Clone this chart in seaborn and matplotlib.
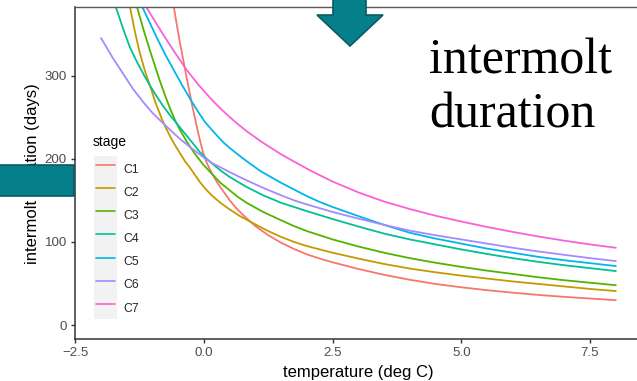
import matplotlib
matplotlib.use("Agg")
import matplotlib.pyplot as plt
import pandas as pd
import seaborn as sns
from matplotlib.patches import Polygon, Rectangle

# ---------------- data ----------------
stages = ["C1", "C2", "C3", "C4", "C5", "C6", "C7"]
palette = ["#F8766D", "#C49A00", "#53B400", "#00C094", "#00B6EB", "#A58AFF", "#FB61D7"]

c1_temp = [-0.63, -0.58, -0.52, -0.47, -0.40, -0.34, -0.28, -0.24, -0.18, -0.12, -0.07, -0.02, 0.04, 0.10, 0.15,
           0.25, 0.35, 0.5, 0.62, 0.75, 0.87, 1.0, 1.25, 1.5, 1.75, 2.0, 2.25, 2.5, 3.0, 3.5, 4.0, 4.5, 5.0,
           5.5, 6.0, 6.5, 7.0, 7.5, 8.0]
c1_days = [400, 380, 358, 340, 318, 298, 280, 267, 250, 233, 220, 208, 197, 189, 183,
           172, 163, 150, 141, 133, 126, 119, 108, 99, 91.5, 85, 80, 75.5, 67.5, 60.5, 54.5, 49.5, 45.5,
           42, 39, 36.3, 34, 32, 30]

c2_temp = [-1.5, -1.43, -1.34, -1.25, -1.15, -1.05, -0.94, -0.82, -0.74, -0.65, -0.56, -0.47, -0.37, -0.27,
           -0.17, -0.08, 0.04, 0.15, 0.32, 0.5, 0.7, 1.0, 1.25, 1.5, 1.75, 2.0, 2.5, 3.0, 3.5, 4.0, 4.5,
           5.0, 5.5, 6.0, 6.5, 7.0, 7.5, 8.0]
c2_days = [400, 380, 352, 328, 306, 288, 267, 248, 237, 226, 216, 207, 197, 189,
           180, 172, 163, 156, 147, 139, 131, 121, 113, 106, 100, 95, 87, 80, 73.5, 68, 63.5,
           59.5, 56, 52.5, 49.5, 46.5, 43.5, 41]

c3_temp = [-1.39, -1.29, -1.17, -1.05, -0.95, -0.86, -0.75, -0.65, -0.56, -0.47, -0.34, -0.2, -0.03, 0.15,
           0.32, 0.5, 0.66, 0.83, 1.15, 1.5, 1.75, 2.0, 2.5, 3.0, 3.5, 4.0, 4.5, 5.0, 5.5, 6.0, 6.5, 7.0,
           7.5, 8.0]
c3_days = [400, 380, 354, 330, 311, 294, 275, 259, 246, 235, 221, 208, 194, 182,
           171, 162, 154, 147, 136, 126, 119, 113, 103, 94.5, 87, 80.5, 75, 70, 65.5, 61.5, 57.5, 54,
           51, 48]

c4_temp = [-1.81, -1.70, -1.57, -1.44, -1.30, -1.17, -1.05, -0.92, -0.8, -0.67, -0.55, -0.42, -0.3, -0.19,
           -0.08, 0.05, 0.18, 0.34, 0.5, 0.83, 1.15, 1.5, 2.0, 2.5, 3.0, 3.5, 4.0, 4.5, 5.0, 5.5, 6.0,
           6.5, 7.0, 7.5, 8.0]
c4_days = [402, 380, 356, 334, 316, 301, 288, 275, 264, 253, 244, 234, 225, 216.5,
           208, 200, 193, 185, 178, 166, 156, 147, 137, 127.5, 118.5, 110, 103, 97, 91, 85.5, 80.5,
           76, 72, 68.5, 65]

c5_temp = [-1.34, -1.18, -1.05, -0.92, -0.76, -0.6, -0.44, -0.27, -0.12, 0.02, 0.14, 0.25, 0.37, 0.5,
           0.66, 0.83, 1.1, 1.3, 1.5, 1.75, 2.0, 2.25, 2.5, 3.0, 3.5, 4.0, 4.5, 5.0, 5.5, 6.0, 6.5, 7.0,
           7.5, 8.0]
c5_days = [400, 380, 363, 346, 326, 308, 290, 272, 257, 244, 235.5, 228, 220, 213,
           205, 197, 185, 178, 171, 163, 155, 148, 142, 131, 120.5, 111, 104, 98, 92, 87, 82, 78,
           74.5, 71]

c6_temp = [-2.0, -1.78, -1.57, -1.38, -1.18, -1.0, -0.8, -0.63, -0.47, -0.27, -0.08, 0.05, 0.18, 0.34,
           0.5, 0.66, 0.83, 1.15, 1.5, 1.75, 2.0, 2.5, 3.0, 3.5, 4.0, 4.5, 5.0, 5.5, 6.0, 6.5, 7.0, 7.5, 8.0]
c6_days = [345, 322, 302, 284, 268, 255, 243, 233, 224, 214, 205, 199, 194, 189,
           184, 179, 174, 165, 156, 150, 145, 136, 128, 120.5, 113.5, 108, 103, 98, 93, 88.5, 84.5, 80.5, 77]

c7_temp = [-1.30, -1.10, -0.79, -0.56, -0.34, -0.11, 0.12, 0.3, 0.5, 0.66, 0.83, 1.15, 1.48, 1.75,
           2.06, 2.5, 3.0, 3.5, 4.0, 4.5, 5.0, 5.5, 6.0, 6.5, 7.0, 7.5, 8.0]
c7_days = [400, 380, 349, 327, 307, 289, 273, 261.5, 250, 241.5, 233, 219, 206, 196.5,
           186, 172.5, 159.5, 148.5, 139.5, 131.5, 124.5, 118, 112, 106.5, 101.5, 97, 93]

x_ticks = [-2.5, 0.0, 2.5, 5.0, 7.5]
y_ticks = [0, 100, 200, 300]
x_label = "temperature (deg C)"
y_label = "intermolt duration (days)"
legend_title = "stage"
overlay_text = ["intermolt", "duration"]

temps = [c1_temp, c2_temp, c3_temp, c4_temp, c5_temp, c6_temp, c7_temp]
days = [c1_days, c2_days, c3_days, c4_days, c5_days, c6_days, c7_days]
df = pd.concat(
    [pd.DataFrame({"temp": t, "days": d, "stage": s}) for t, d, s in zip(temps, days, stages)],
    ignore_index=True,
)

# ---------------- style ----------------
sns.set_theme(style="white")
plt.rcParams["font.family"] = ["Liberation Sans", "DejaVu Sans"]

W, H = 637, 381
fig = plt.figure(figsize=(W / 100, H / 100), dpi=100)
fig.patch.set_facecolor("white")


def fx(px):
    return px / W


def fy(py):  # py measured from top
    return (H - py) / H


ax_l, ax_r, ax_t, ax_b = 75.3, 641.6, 7.3, 339.3
ax = fig.add_axes([fx(ax_l), fy(ax_b), (ax_r - ax_l) / W, (ax_b - ax_t) / H])
ax.set_facecolor("white")

sns.lineplot(
    data=df, x="temp", y="days", hue="stage", hue_order=stages,
    palette=palette, estimator=None, sort=True, linewidth=1.3, ax=ax,
)

ax.set_xlim(-2.5, 8.5)
ax.set_ylim(-17, 382)
ax.set_xticks(x_ticks)
ax.set_xticklabels([f"{v:.1f}".replace("-", "\u2212") for v in x_ticks])
ax.set_yticks(y_ticks)
ax.set_yticklabels([str(v) for v in y_ticks])

for side in ["left", "bottom"]:
    ax.spines[side].set_color("#333333")
    ax.spines[side].set_linewidth(1.1)
ax.spines["top"].set_color("#5a5a5a")
ax.spines["top"].set_linewidth(1.0)
ax.spines["right"].set_visible(False)

ax.tick_params(axis="both", direction="out", length=3, width=1.0, color="#333333",
               labelcolor="#4D4D4D", labelsize=9.6)
ax.tick_params(axis="x", pad=2.5, bottom=True)
ax.tick_params(axis="y", pad=3, left=True)

ax.set_xlabel(x_label, fontsize=12, color="black")
ax.set_ylabel(y_label, fontsize=12, color="black")
ax.xaxis.set_label_coords(0.5, -0.077)
ax.yaxis.set_label_coords((40.5 - ax_l) / (ax_r - ax_l), 0.5)

# ---------------- legend ----------------
handles, labels = ax.get_legend_handles_labels()
ax.get_legend().remove()
for h in handles:
    h.set_linewidth(1.2)

fig.patches.append(Rectangle((fx(94), fy(319)), (117 - 94) / W, (319 - 156) / H,
                             transform=fig.transFigure, facecolor="#F2F2F2",
                             edgecolor="none", zorder=2))
fig.legend(handles, labels, loc="upper left", bbox_to_anchor=(fx(96), fy(157.2)),
           frameon=False, fontsize=8.8, borderpad=0, borderaxespad=0,
           handlelength=1.55, handleheight=2.543, labelspacing=0, handletextpad=0.65)
fig.text(fx(93), fy(146.5), legend_title, fontsize=10, color="black", va="baseline", ha="left")

# ---------------- overlay (slide decorations) ----------------
teal, teal_edge = "#05808B", "#0B5A62"
arrow_pts = [(333, -5), (366, -5), (366, 15), (383, 15), (350, 46), (317, 15), (333, 15)]
fig.patches.append(Polygon([(fx(x), fy(y)) for x, y in arrow_pts], closed=True,
                           transform=fig.transFigure, facecolor=teal,
                           edgecolor=teal_edge, linewidth=1.2, zorder=10))
fig.patches.append(Rectangle((fx(-5), fy(196)), (74 + 5) / W, (196 - 164.5) / H,
                             transform=fig.transFigure, facecolor=teal,
                             edgecolor=teal_edge, linewidth=1.2, zorder=10))

fig.text(fx(429), fy(73), overlay_text[0], fontsize=36, family="Liberation Serif",
         color="black", va="baseline", ha="left")
fig.text(fx(429), fy(128), overlay_text[1], fontsize=36, family="Liberation Serif",
         color="black", va="baseline", ha="left")

fig.savefig("out.png", dpi=100, facecolor="white")
